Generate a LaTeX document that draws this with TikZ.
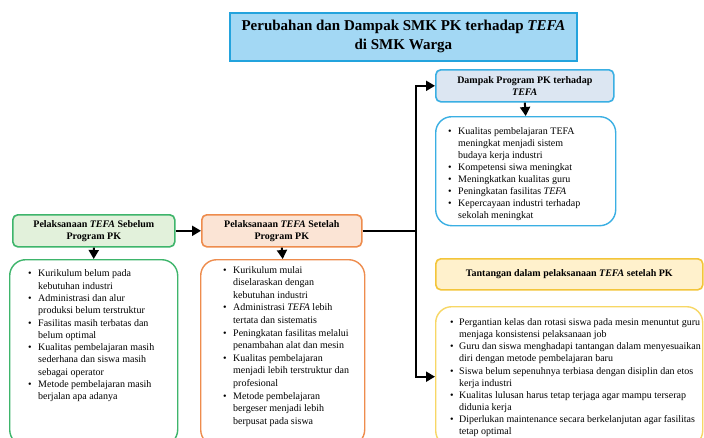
\documentclass[tikz,border=0pt]{standalone}
\usepackage{fontspec}
\setmainfont{Liberation Serif}
\usetikzlibrary{arrows.meta}
\definecolor{titfill}{HTML}{A3D8F4}
\definecolor{titdraw}{HTML}{23A3DD}
\definecolor{dfill}{HTML}{DCE6F2}
\definecolor{ddraw}{HTML}{3AAFE3}
\definecolor{tfill}{HTML}{FFF1CC}
\definecolor{tdraw}{HTML}{F3C53A}
\definecolor{tldraw}{HTML}{F7D765}
\definecolor{gfill}{HTML}{E2F1DB}
\definecolor{gdraw}{HTML}{3EB56B}
\definecolor{ofill}{HTML}{FBE4D5}
\definecolor{odraw}{HTML}{EE8C4D}
\newcommand{\blt}{\textbullet}
\begin{document}
\begin{tikzpicture}[x=1pt,y=-1pt,
  hdr/.style={draw, rounded corners=5pt, line width=1.6pt, inner sep=0pt, anchor=north west,
    font=\bfseries\fontsize{10}{12}\selectfont, align=center},
  lst/.style={draw, rounded corners=16pt, line width=1.4pt, inner sep=0pt, anchor=north west, fill=white},
  txt/.style={inner sep=0pt, anchor=north west, align=left},
  arr/.style={line width=2pt, -{Triangle[length=9pt,width=10pt]}},
  conn/.style={line width=2pt}]
\useasboundingbox (0,0) rectangle (704,437);
\fill[white] (0,0) rectangle (704,437);

% title
\node[draw=titdraw, fill=titfill, line width=1.8pt, inner sep=0pt, anchor=north west,
  minimum width=347pt, minimum height=48pt, align=center,
  font=\bfseries\fontsize{15}{19}\selectfont] (title) at (229,12)
  {Perubahan dan Dampak SMK PK terhadap \textit{TEFA}\\ di SMK Warga};

% headers
\node[hdr, draw=gdraw, fill=gfill, minimum width=162pt, minimum height=32pt] (seb) at (12,214)
  {Pelaksanaan \textit{TEFA} Sebelum\\ Program PK};
\node[hdr, draw=odraw, fill=ofill, minimum width=160pt, minimum height=32pt] (set) at (201,214)
  {Pelaksanaan \textit{TEFA} Setelah\\ Program PK};
\node[hdr, draw=ddraw, fill=dfill, minimum width=178pt, minimum height=32pt] (dh) at (435,69)
  {Dampak Program PK terhadap\\ \textit{TEFA}};
\node[hdr, draw=tdraw, fill=tfill, minimum width=267pt, minimum height=31pt] (th) at (435,258)
  {Tantangan dalam pelaksanaan \textit{TEFA} setelah PK};

% list boxes
\node[lst, draw=gdraw, minimum width=168pt, minimum height=186pt] (sebl) at (9,259) {};
\node[lst, draw=odraw, minimum width=164pt, minimum height=186pt] (setl) at (200,259) {};
\node[lst, draw=ddraw, minimum width=180pt, minimum height=109pt] (dl) at (435,116) {};
\node[lst, draw=tldraw, minimum width=267pt, minimum height=140pt] (tl) at (435,306) {};

% list texts
\node[txt] (sebt) at (28,268) {\fontsize{10}{12.3}\selectfont
\begin{tabular}{@{}p{10pt}@{}l@{}}
\blt & Kurikulum belum pada\\
 & kebutuhan industri\\
\blt & Administrasi dan alur\\
 & produksi belum terstruktur\\
\blt & Fasilitas masih terbatas dan\\
 & belum optimal\\
\blt & Kualitas pembelajaran masih\\
 & sederhana dan siswa masih\\
 & sebagai operator\\
\blt & Metode pembelajaran masih\\
 & berjalan apa adanya
\end{tabular}};

\node[txt] (sett) at (223,264) {\fontsize{10}{12.6}\selectfont
\begin{tabular}{@{}p{10pt}@{}l@{}}
\blt & Kurikulum mulai\\
 & diselaraskan dengan\\
 & kebutuhan industri\\
\blt & Administrasi \textit{TEFA} lebih\\
 & tertata dan sistematis\\
\blt & Peningkatan fasilitas melalui\\
 & penambahan alat dan mesin\\
\blt & Kualitas pembelajaran\\
 & menjadi lebih terstruktur dan\\
 & profesional\\
\blt & Metode pembelajaran\\
 & bergeser menjadi lebih\\
 & berpusat pada siswa
\end{tabular}};

\node[txt] (dt) at (448,125.5) {\fontsize{10}{12.1}\selectfont
\begin{tabular}{@{}p{10pt}@{}l@{}}
\blt & Kualitas pembelajaran TEFA\\
 & meningkat menjadi sistem\\
 & budaya kerja industri\\
\blt & Kompetensi siwa meningkat\\
\blt & Meningkatkan kualitas guru\\
\blt & Peningkatan fasilitas \textit{TEFA}\\
\blt & Kepercayaan industri terhadap\\
 & sekolah meningkat
\end{tabular}};

\node[txt] (tt) at (450,317) {\fontsize{10}{12.1}\selectfont
\begin{tabular}{@{}p{9pt}@{}l@{}}
\blt & Pergantian kelas dan rotasi siswa pada mesin menuntut guru\\
 & menjaga konsistensi pelaksanaan job\\
\blt & Guru dan siswa menghadapi tantangan dalam menyesuaikan\\
 & diri dengan metode pembelajaran baru\\
\blt & Siswa belum sepenuhnya terbiasa dengan disiplin dan etos\\
 & kerja industri\\
\blt & Kualitas lulusan harus tetap terjaga agar mampu terserap\\
 & didunia kerja\\
\blt & Diperlukan maintenance secara berkelanjutan agar fasilitas\\
 & tetap optimal
\end{tabular}};

% connectors
\draw[arr] (seb.south) -- (sebl.north);
\draw[arr] (set.south) -- (setl.north);
\draw[arr] (dh.south) -- (dl.north);
\draw[arr] (seb.east) -- (set.west);
\path (set.east) ++(53,0) coordinate (j);
\draw[conn] (set.east) -- (j);
\draw[arr] (j) |- (dh.west);
\draw[arr] (j) |- (tl.west);
\end{tikzpicture}
\end{document}
